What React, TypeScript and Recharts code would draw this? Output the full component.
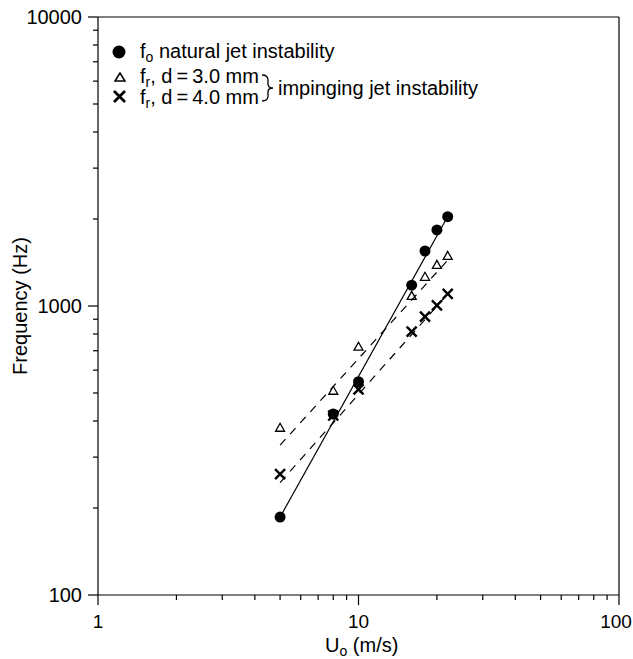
import React from 'react'
import { ComposedChart, Scatter, XAxis, YAxis, ReferenceLine } from 'recharts'

// jet velocity (m/s)
const velocity = [5, 8, 10, 16, 18, 20, 22]
// frequencies (Hz)
const fNatural = [186, 423, 547, 1180, 1550, 1833, 2037]
const fImp30 = [379, 509, 723, 1084, 1262, 1387, 1490]
const fImp40 = [262, 418, 515, 815, 919, 1005, 1102]

// fitted lines, end points
const fitVelocity = [5, 22]
const fitNatural = [186, 2040]
const fitImp30 = [330, 1440]
const fitImp40 = [245, 1100]

const xMajor = [1, 10, 100]
const xMinor = [2, 3, 4, 5, 6, 7, 8, 9, 20, 30, 40, 50, 60, 70, 80, 90]
const yMajor = [100, 1000, 10000]
const yMinor = [200, 300, 400, 500, 600, 700, 800, 900, 2000, 3000, 4000, 5000, 6000, 7000, 8000, 9000]

const FONT = '"Liberation Sans", Arial, Helvetica, sans-serif'

const toPoints = (xs: number[], ys: number[]) => xs.map((u, i) => ({ u, f: ys[i] }))

function XTick(props: any) {
  const { x, y, payload } = props
  const major = xMajor.includes(payload.value)
  // keep the last label inside the page
  const tx = Math.min(x, 616)
  return (
    <g>
      <line x1={x} x2={x} y1={y} y2={y + (major ? 10 : 5)} stroke="#000" strokeWidth={1.2} />
      {major && (
        <text x={tx} y={y + 33} textAnchor="middle" fontSize={19} fontFamily={FONT} fill="#000">
          {payload.value}
        </text>
      )}
    </g>
  )
}

function YTick(props: any) {
  const { x, y, payload } = props
  const major = yMajor.includes(payload.value)
  return (
    <g>
      <line x1={x} x2={x - (major ? 10 : 5)} y1={y} y2={y} stroke="#000" strokeWidth={1.2} />
      {major && (
        <text x={x - 16} y={y + 7} textAnchor="end" fontSize={20} fontFamily={FONT} fill="#000">
          {payload.value}
        </text>
      )}
    </g>
  )
}

const Dot = (p: any) => <circle cx={p.cx} cy={p.cy} r={5.5} fill="#000" />
const Tri = (p: any) => (
  <path
    d={`M${p.cx},${p.cy - 4.5} L${p.cx + 4.5},${p.cy + 3.5} L${p.cx - 4.5},${p.cy + 3.5} Z`}
    fill="none"
    stroke="#000"
    strokeWidth={1.3}
  />
)
const Cross = (p: any) => (
  <path
    d={`M${p.cx - 5},${p.cy - 5} L${p.cx + 5},${p.cy + 5} M${p.cx + 5},${p.cy - 5} L${p.cx - 5},${p.cy + 5}`}
    stroke="#000"
    strokeWidth={2.4}
  />
)
const Blank = () => <g />

export default function App() {
  return (
    <div style={{ position: 'absolute', left: 0, top: 0, width: 633, height: 659, background: '#fff' }}>
      <ComposedChart width={633} height={659} margin={{ top: 17, right: 14, left: 38, bottom: 24 }}>
        <XAxis
          type="number"
          dataKey="u"
          scale="log"
          domain={[1, 100]}
          allowDataOverflow
          ticks={[...xMajor, ...xMinor]}
          interval={0}
          tickSize={0}
          tickMargin={0}
          tick={<XTick />}
          height={40}
          axisLine={{ stroke: '#000', strokeWidth: 1.2 }}
        />
        <YAxis
          type="number"
          dataKey="f"
          scale="log"
          domain={[100, 10000]}
          allowDataOverflow
          ticks={[...yMajor, ...yMinor]}
          interval={0}
          tickSize={0}
          tickMargin={0}
          tick={<YTick />}
          width={60}
          axisLine={{ stroke: '#000', strokeWidth: 1.2 }}
        />
        <ReferenceLine y={10000} stroke="#000" strokeWidth={1.2} />
        <ReferenceLine x={100} stroke="#000" strokeWidth={1.2} />
        <Scatter data={toPoints(fitVelocity, fitNatural)} line={{ stroke: '#000', strokeWidth: 1.2 }} shape={Blank} isAnimationActive={false} />
        <Scatter data={toPoints(fitVelocity, fitImp30)} line={{ stroke: '#000', strokeWidth: 1.2, strokeDasharray: '8 7' }} shape={Blank} isAnimationActive={false} />
        <Scatter data={toPoints(fitVelocity, fitImp40)} line={{ stroke: '#000', strokeWidth: 1.2, strokeDasharray: '8 7' }} shape={Blank} isAnimationActive={false} />
        <Scatter data={toPoints(velocity, fImp40)} shape={Cross} isAnimationActive={false} />
        <Scatter data={toPoints(velocity, fImp30)} shape={Tri} isAnimationActive={false} />
        <Scatter data={toPoints(velocity, fNatural)} shape={Dot} isAnimationActive={false} />
      </ComposedChart>

      <svg width={633} height={659} style={{ position: 'absolute', left: 0, top: 0, pointerEvents: 'none' }} fontFamily={FONT}>
        {/* legend */}
        <circle cx={119} cy={52} r={6.5} fill="#000" />
        <text x={140} y={58} fontSize={20}>
          f<tspan fontSize={14} dy={4}>o</tspan>
          <tspan dy={-4}> natural jet instability</tspan>
        </text>
        <path d="M115,81 L120,73 L125,81 Z" fill="none" stroke="#000" strokeWidth={1.5} />
        <text x={140} y={83} fontSize={20}>
          f<tspan fontSize={14} dy={4}>r</tspan>
          <tspan dy={-4}>, d{'\u2009'}={'\u2009'}3.0 mm</tspan>
        </text>
        <path d="M114,91 L125,102 M125,91 L114,102" stroke="#000" strokeWidth={2.8} />
        <text x={140} y={104} fontSize={20}>
          f<tspan fontSize={14} dy={4}>r</tspan>
          <tspan dy={-4}>, d{'\u2009'}={'\u2009'}4.0 mm</tspan>
        </text>
        <path d="M262,75 Q268,75 268,80 L268,84 Q268,88 273,88 Q268,88 268,92 L268,96 Q268,101 262,101" fill="none" stroke="#000" strokeWidth={1.3} />
        <text x={278} y={95} fontSize={20}>impinging jet instability</text>

        {/* axis titles */}
        <text x={325} y={652} fontSize={20}>
          U<tspan fontSize={14} dy={4}>o</tspan>
          <tspan dy={-4}> (m/s)</tspan>
        </text>
        <text transform="translate(27,306) rotate(-90)" textAnchor="middle" fontSize={20}>
          Frequency (Hz)
        </text>
      </svg>
    </div>
  )
}
